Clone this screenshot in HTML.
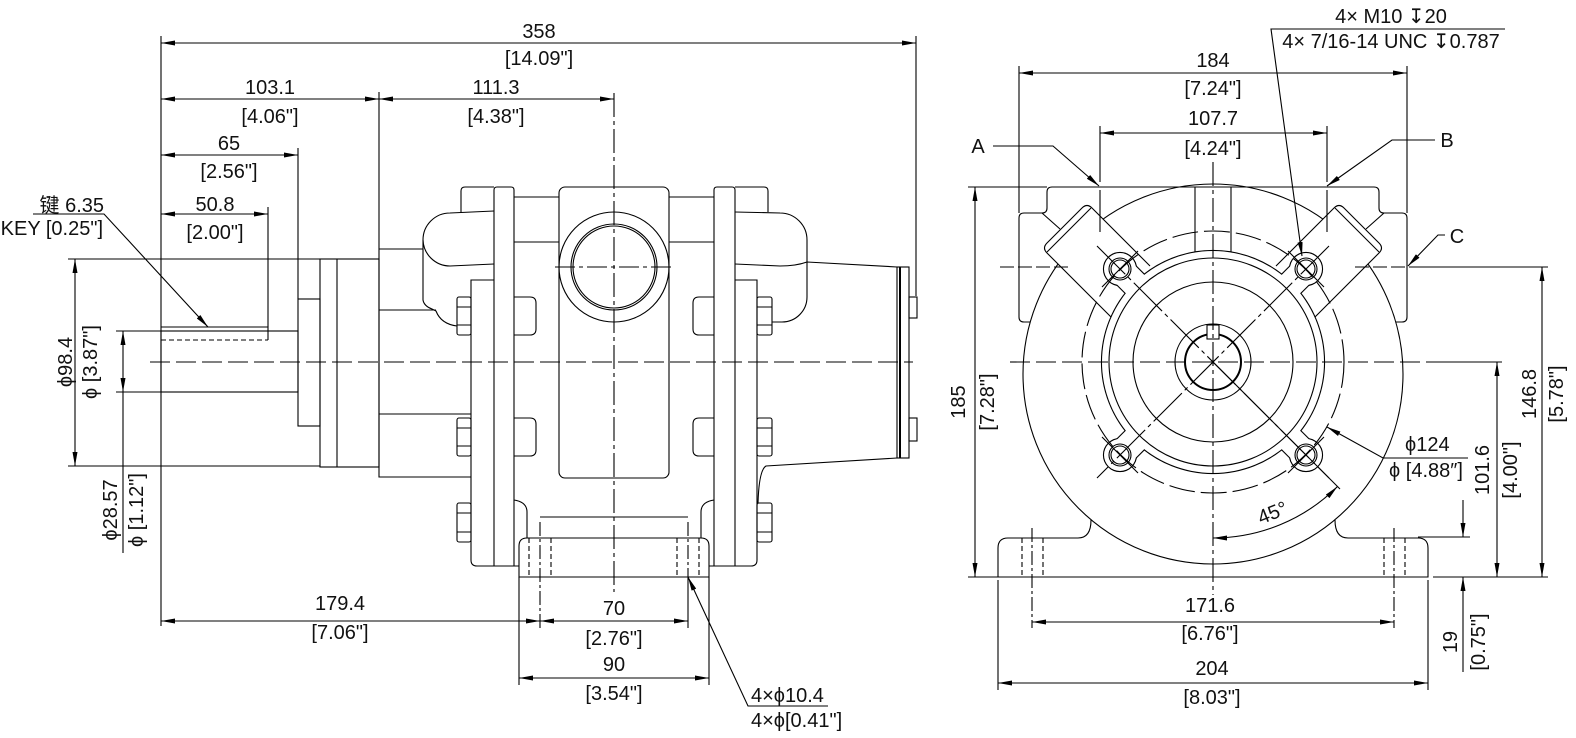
<!DOCTYPE html>
<html><head><meta charset="utf-8"><style>
html,body{margin:0;padding:0;background:#fff;}
svg{display:block;}
text{font-family:"Liberation Sans","DejaVu Sans","Noto Sans CJK SC",sans-serif;font-size:20px;fill:#111;}
</style></head><body>
<svg width="1576" height="738" viewBox="0 0 1576 738" xmlns="http://www.w3.org/2000/svg">
<defs>
<marker id="ar" viewBox="0 0 14 5" refX="14" refY="2.5" markerWidth="14" markerHeight="5" markerUnits="userSpaceOnUse" orient="auto-start-reverse"><path d="M0,0L14,2.5L0,5z" fill="#000"/></marker>
</defs>

<!-- ================= LEFT VIEW ================= -->
<g fill="none" stroke="#000" stroke-width="1.1">
<!-- shaft -->
<rect x="161" y="331" width="137" height="61"/>
<path d="M161,327H268V340"/>
<path d="M161,340H268" stroke-dasharray="5 3"/>
<!-- step & flange -->
<rect x="298" y="299" width="22" height="127"/>
<rect x="320" y="259" width="59" height="208"/>
<path d="M337,259V467"/>
<!-- block -->
<path d="M379,249H423M379,249V477H471M379,310H436M379,414H471"/>
<!-- left bulb -->
<path d="M494,211L450,213A27,27 0 0 0 423,240L423,300Q424,306 432,309L436,311Q441,324 457,326"/>
<path d="M423,240A27,27 0 0 0 450,266L494,264"/>
<!-- left ear -->
<path d="M461,212V191Q461,187 465,187H494"/>
<!-- left bolt plate -->
<path d="M494,280H471V560Q471,566 477,566H519"/>
<!-- left plate -->
<path d="M494,566V190Q494,187 497,187H511Q514,187 514,190V566"/>
<!-- center body lines -->
<path d="M514,197H559M514,242H559M669,197H714M669,242H714"/>
<!-- port boss -->
<rect x="559" y="187" width="110" height="291" rx="6"/>
<circle cx="614" cy="267" r="55"/>
<circle cx="614" cy="267" r="43"/>
<circle cx="614" cy="267" r="41"/>
<!-- notches left -->
<path d="M514,297H530Q536,297 536,303V329Q536,335 530,335H514"/>
<path d="M514,418H530Q536,418 536,424V450Q536,456 530,456H514"/>
<!-- notches right -->
<path d="M714,297H699Q693,297 693,303V329Q693,335 699,335H714"/>
<path d="M714,418H699Q693,418 693,424V450Q693,456 699,456H714"/>
<!-- body lower -->
<path d="M514,500Q527,502 527,512V538"/>
<path d="M714,500Q701,502 701,512V538"/>
<path d="M540,517H688"/>
<!-- foot -->
<path d="M519,577V546Q519,538 527,538H701Q709,538 709,546V577Z"/>
<path d="M529,538V577M551,538V577M677,538V577M699,538V577" stroke-dasharray="5 3"/>
<!-- right plate -->
<path d="M714,566V190Q714,187 717,187H732Q735,187 735,190V566"/>
<path d="M735,187H764Q768,187 768,191V212"/>
<path d="M735,280H757V560Q757,566 751,566H709"/>
<!-- right bulb -->
<path d="M735,212L780,213A27,27 0 0 1 807,240V297A25,25 0 0 1 782,322H772"/>
<path d="M735,264L780,266Q796,266 807,262L897,267"/>
<path d="M758,503Q759,470 766,466L897,458"/>
<!-- end plate -->
<rect x="897" y="267" width="12" height="191"/>
<path d="M900,267V458" stroke-width="2"/>
<rect x="909" y="297" width="8" height="21"/>
<rect x="909" y="418" width="8" height="23"/>
<!-- bolts -->
<rect x="457" y="297" width="14" height="38" rx="2"/><path d="M457,307H471M457,325H471"/>
<rect x="457" y="418" width="14" height="38" rx="2"/><path d="M457,428H471M457,446H471"/>
<rect x="457" y="503" width="14" height="39" rx="2"/><path d="M457,513H471M457,532H471"/>
<rect x="757" y="297" width="15" height="38" rx="2"/><path d="M757,307H772M757,325H772"/>
<rect x="757" y="418" width="15" height="38" rx="2"/><path d="M757,428H772M757,446H772"/>
<rect x="757" y="503" width="15" height="39" rx="2"/><path d="M757,513H772M757,532H772"/>

<!-- centerlines -->
<path d="M150,362H913" stroke-dasharray="20 6"/>
<path d="M614,93V592" stroke-dasharray="24 4 4 4"/>
<path d="M555,267H673" stroke-dasharray="20 4 4 4"/>
<path d="M540,522V628M688,522V577" stroke-dasharray="14 3 3 3"/>

<!-- dimensions -->
<path d="M161,36V626"/>
<path d="M916,36V296"/>
<path d="M161,43H916" marker-start="url(#ar)" marker-end="url(#ar)"/>
<path d="M379,92V249"/>
<path d="M161,99H379" marker-start="url(#ar)" marker-end="url(#ar)"/>
<path d="M379,99H614" marker-start="url(#ar)" marker-end="url(#ar)"/>
<path d="M298,148V299"/>
<path d="M161,155H298" marker-start="url(#ar)" marker-end="url(#ar)"/>
<path d="M268,207V327"/>
<path d="M161,214H268" marker-start="url(#ar)" marker-end="url(#ar)"/>
<path d="M68,259H320M68,466H320"/>
<path d="M75,259V466" marker-start="url(#ar)" marker-end="url(#ar)"/>
<path d="M116,331H161M116,392H161"/>
<path d="M123,331V392" marker-start="url(#ar)" marker-end="url(#ar)"/>
<path d="M123,392V553"/>
<path d="M161,621H540" marker-start="url(#ar)" marker-end="url(#ar)"/>
<path d="M540,621H688" marker-start="url(#ar)" marker-end="url(#ar)"/>
<path d="M688,577V628"/>
<path d="M519,577V685M709,577V685"/>
<path d="M519,678H709" marker-start="url(#ar)" marker-end="url(#ar)"/>
<path d="M828,706L748,706L688,577" marker-end="url(#ar)"/>
<path d="M33,214L104,214L208,327" marker-end="url(#ar)"/>
</g>

<!-- left texts -->
<g text-anchor="middle">
<text x="539" y="38">358</text>
<text x="539" y="65">[14.09"]</text>
<text x="270" y="94">103.1</text>
<text x="270" y="123">[4.06"]</text>
<text x="496" y="94">111.3</text>
<text x="496" y="123">[4.38"]</text>
<text x="229" y="150">65</text>
<text x="229" y="178">[2.56"]</text>
<text x="215" y="211">50.8</text>
<text x="215" y="239">[2.00"]</text>
<text x="340" y="610">179.4</text>
<text x="340" y="639">[7.06"]</text>
<text x="614" y="615">70</text>
<text x="614" y="645">[2.76"]</text>
<text x="614" y="671">90</text>
<text x="614" y="700">[3.54"]</text>
<text transform="translate(72,362) rotate(-90)">ϕ98.4</text>
<text transform="translate(97,362) rotate(-90)">ϕ [3.87"]</text>
<text transform="translate(117,510) rotate(-90)">ϕ28.57</text>
<text transform="translate(143,510) rotate(-90)">ϕ [1.12"]</text>
</g>
<text x="104" y="212" text-anchor="end">键 6.35</text>
<text x="103" y="235" text-anchor="end">KEY [0.25"]</text>
<text x="751" y="702">4×ϕ10.4</text>
<text x="751" y="727">4×ϕ[0.41"]</text>

<!-- ================= RIGHT VIEW ================= -->
<g fill="none" stroke="#000" stroke-width="1.1">
<circle cx="1213" cy="374" r="190"/>
<!-- bosses -->
<path d="M1150,266L1092,208Q1087,203 1082,208L1047,243Q1042,248 1047,253L1115,321" fill="#fff"/>
<path d="M1091,208L1047,252"/>
<path d="M1276,266L1334,208Q1339,203 1344,208L1379,243Q1384,248 1379,253L1311,321" fill="#fff"/>
<path d="M1335,208L1379,252"/>
<!-- housing -->
<path d="M1030,322H1024Q1019,322 1019,317V218Q1019,213 1024,213H1042Q1047,213 1047,208V192Q1047,187 1052,187H1374Q1379,187 1379,192V208Q1379,213 1384,213H1402Q1407,213 1407,218V317Q1407,322 1402,322H1396"/>
<path d="M1042,213L1060,229M1384,213L1366,229"/>
<!-- port channel -->
<path d="M1195,187V256M1231,187V256"/>
<!-- foot -->
<path d="M1091,520Q1091,538 1078,538H1008Q998,538 998,548V577H1428V548Q1428,538 1418,538H1348Q1335,538 1335,520"/>
<path d="M1022,538V577M1043,538V577M1384,538V577M1405,538V577" stroke-dasharray="5 3"/>
</g>

<!-- flange union: stroke layer -->
<g fill="none" stroke="#000" stroke-width="2.2">
<circle cx="1213" cy="362" r="111"/>
<circle cx="1120" cy="269" r="16"/>
<circle cx="1306" cy="269" r="16"/>
<circle cx="1120" cy="455" r="16"/>
<circle cx="1306" cy="455" r="16"/>
<polygon points="1289.4,304 1315.2,278.2 1296.8,259.8 1271,285.6"/>
<polygon points="1136.6,304 1110.8,278.2 1129.2,259.8 1155,285.6"/>
<polygon points="1289.4,420 1315.2,445.8 1296.8,464.2 1271,438.4"/>
<polygon points="1136.6,420 1110.8,445.8 1129.2,464.2 1155,438.4"/>
</g>
<g fill="#fff" stroke="none">
<circle cx="1213" cy="362" r="111"/>
<circle cx="1120" cy="269" r="16"/>
<circle cx="1306" cy="269" r="16"/>
<circle cx="1120" cy="455" r="16"/>
<circle cx="1306" cy="455" r="16"/>
<polygon points="1289.4,304 1315.2,278.2 1296.8,259.8 1271,285.6"/>
<polygon points="1136.6,304 1110.8,278.2 1129.2,259.8 1155,285.6"/>
<polygon points="1289.4,420 1315.2,445.8 1296.8,464.2 1271,438.4"/>
<polygon points="1136.6,420 1110.8,445.8 1129.2,464.2 1155,438.4"/>
</g>

<g fill="none" stroke="#000" stroke-width="1.1">
<circle cx="1213" cy="362" r="104"/>
<circle cx="1213" cy="362" r="80"/>
<circle cx="1213" cy="362" r="38"/>
<circle cx="1213" cy="362" r="28" stroke-width="2"/>
<rect x="1207" y="325" width="12" height="14" fill="#fff"/>
<circle cx="1213" cy="362" r="131" stroke-dasharray="26 6"/>
<!-- bolt holes -->
<circle cx="1120" cy="269" r="11"/><circle cx="1120" cy="269" r="9"/>
<circle cx="1306" cy="269" r="11"/><circle cx="1306" cy="269" r="9"/>
<circle cx="1120" cy="455" r="11"/><circle cx="1120" cy="455" r="9"/>
<circle cx="1306" cy="455" r="11"/><circle cx="1306" cy="455" r="9"/>
<path d="M1102,287L1138,251M1288,251L1324,287M1102,437L1138,473M1288,473L1324,437"/>
<!-- diagonal centerlines -->
<path d="M1097,246L1329,478M1329,246L1097,478" stroke-dasharray="40 4 4 4"/>
<path d="M1213,362L1340,489"/>
<!-- centerlines -->
<path d="M1213,162V595" stroke-dasharray="24 4 4 4"/>
<path d="M1010,362H1440" stroke-dasharray="20 6"/>
<path d="M1440,362H1502"/>
<path d="M1000,267H1070M1355,267H1420" stroke-dasharray="14 4"/>
<path d="M1420,267H1548"/>
<path d="M1032,528V628M1394,528V628" stroke-dasharray="14 3 3 3"/>

<!-- dims -->
<path d="M1019,66V213M1407,66V213"/>
<path d="M1019,73H1407" marker-start="url(#ar)" marker-end="url(#ar)"/>
<path d="M1100,126V182M1100,190V232M1327,126V182M1327,190V232"/>
<path d="M1100,133H1327" marker-start="url(#ar)" marker-end="url(#ar)"/>
<path d="M968,187H1047M968,577H998"/>
<path d="M975,187V577" marker-start="url(#ar)" marker-end="url(#ar)"/>
<path d="M1433,577H1548"/>
<path d="M1542,267V577" marker-start="url(#ar)" marker-end="url(#ar)"/>
<path d="M1497,362V577" marker-start="url(#ar)" marker-end="url(#ar)"/>
<path d="M1418,537H1470"/>
<path d="M1463,500V537" marker-end="url(#ar)"/>
<path d="M1463,672V577" marker-end="url(#ar)"/>
<path d="M1032,622H1394" marker-start="url(#ar)" marker-end="url(#ar)"/>
<path d="M998,580V690M1428,580V690"/>
<path d="M998,683H1428" marker-start="url(#ar)" marker-end="url(#ar)"/>
<path d="M1213,538A176,176 0 0 0 1337.5,486.5" marker-start="url(#ar)" marker-end="url(#ar)"/>
<path d="M1468,458H1383L1327,427" marker-end="url(#ar)"/>
<path d="M993,146H1053L1099,186" marker-end="url(#ar)"/>
<path d="M1435,140H1392L1327,186" marker-end="url(#ar)"/>
<path d="M1445,235H1438L1408,266" marker-end="url(#ar)"/>
<path d="M1505,29H1271L1302,256" marker-end="url(#ar)"/>
</g>

<!-- right texts -->
<g text-anchor="middle">
<text x="1213" y="67">184</text>
<text x="1213" y="95">[7.24"]</text>
<text x="1213" y="125">107.7</text>
<text x="1213" y="155">[4.24"]</text>
<text x="1391" y="23">4× M10 ↧20</text>
<text x="1391" y="48">4× 7/16-14 UNC ↧0.787</text>
<text x="978" y="153">A</text>
<text x="1447" y="147">B</text>
<text x="1457" y="243">C</text>
<text x="1210" y="612">171.6</text>
<text x="1210" y="640">[6.76"]</text>
<text x="1212" y="675">204</text>
<text x="1212" y="704">[8.03"]</text>
<text transform="translate(965,402) rotate(-90)">185</text>
<text transform="translate(994,402) rotate(-90)">[7.28"]</text>
<text transform="translate(1536,394) rotate(-90)">146.8</text>
<text transform="translate(1563,394) rotate(-90)">[5.78"]</text>
<text transform="translate(1489,470) rotate(-90)">101.6</text>
<text transform="translate(1517,470) rotate(-90)">[4.00"]</text>
<text transform="translate(1457,642) rotate(-90)">19</text>
<text transform="translate(1485,642) rotate(-90)">[0.75"]</text>
<text transform="translate(1275,519) rotate(-22)">45°</text>
</g>
<text x="1405" y="451">ϕ124</text>
<text x="1389" y="477">ϕ [4.88″]</text>
</svg>
</body></html>
